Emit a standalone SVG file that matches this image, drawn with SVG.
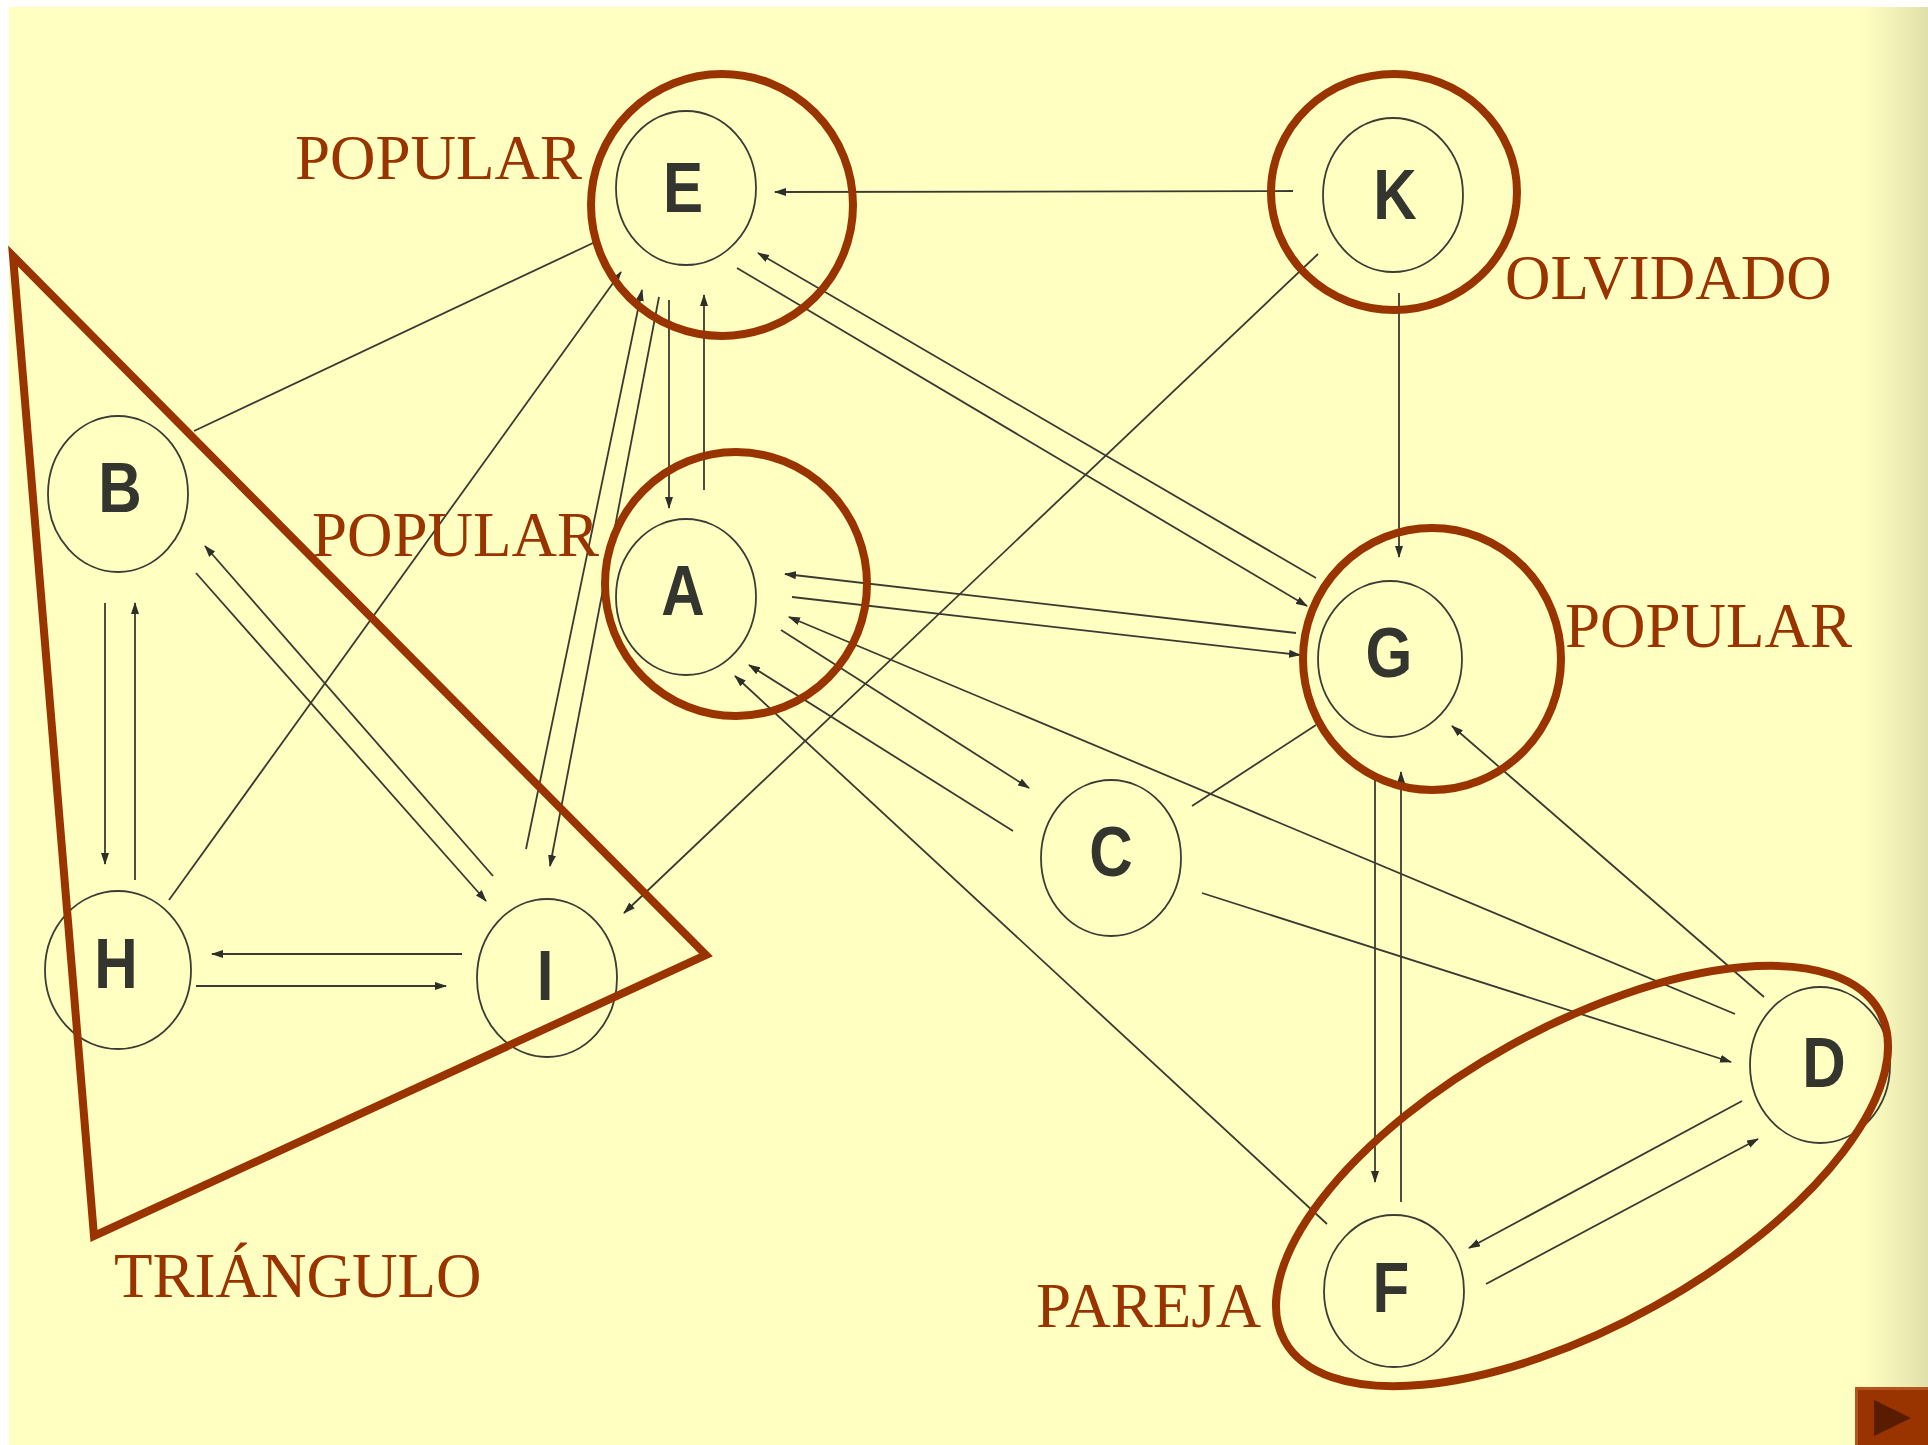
<svg xmlns="http://www.w3.org/2000/svg" width="1928" height="1445" viewBox="0 0 1928 1445">
<style>
.bg{fill:#FFFFC1}
.node{fill:none;stroke:#3c3c36;stroke-width:1.8}
.lt{font-family:"Liberation Sans",Arial,sans-serif;font-weight:bold;font-size:70px;fill:#35352f;text-anchor:middle}
.edge{fill:none;stroke:#3a3a33;stroke-width:1.8}
.ring{fill:none;stroke:#993300;stroke-width:8}
.lbl{font-family:"Liberation Serif","Times New Roman",serif;font-size:63px;fill:#993300}
</style>
<defs>
<marker id="ah" markerUnits="userSpaceOnUse" markerWidth="12" markerHeight="8" refX="11" refY="4" orient="auto">
<path d="M0,0 L12,4 L0,8 z" fill="#2f2f2a"/>
</marker>
<linearGradient id="shade" x1="0" y1="0" x2="1" y2="0">
<stop offset="0" stop-color="#c8c89a" stop-opacity="0"/>
<stop offset="1" stop-color="#b8b88c" stop-opacity="0.45"/>
</linearGradient>
</defs>
<rect x="0" y="0" width="1928" height="1445" fill="#ffffff"/>
<rect class="bg" x="9" y="7" width="1919" height="1438"/>
<rect x="1860" y="7" width="68" height="1438" fill="url(#shade)"/>

<g id="connectors">
<line class="edge" x1="1293" y1="191" x2="775" y2="192" marker-end="url(#ah)"/>
<line class="edge" x1="1399" y1="293" x2="1399" y2="557" marker-end="url(#ah)"/>
<line class="edge" x1="1318" y1="254" x2="624" y2="913" marker-end="url(#ah)"/>
<line class="edge" x1="194" y1="431" x2="593" y2="243"/>
<line class="edge" x1="169" y1="900" x2="621" y2="272" marker-end="url(#ah)"/>
<line class="edge" x1="526" y1="849" x2="642" y2="290" marker-end="url(#ah)"/>
<line class="edge" x1="659" y1="297" x2="550" y2="866" marker-end="url(#ah)"/>
<line class="edge" x1="669" y1="300" x2="669" y2="508" marker-end="url(#ah)"/>
<line class="edge" x1="704" y1="490" x2="704" y2="295" marker-end="url(#ah)"/>
<line class="edge" x1="1316" y1="578" x2="758" y2="253" marker-end="url(#ah)"/>
<line class="edge" x1="737" y1="268" x2="1307" y2="606" marker-end="url(#ah)"/>
<line class="edge" x1="1296" y1="633" x2="785" y2="574" marker-end="url(#ah)"/>
<line class="edge" x1="792" y1="597" x2="1300" y2="655" marker-end="url(#ah)"/>
<line class="edge" x1="1735" y1="1014" x2="789" y2="617" marker-end="url(#ah)"/>
<line class="edge" x1="781" y1="630" x2="1029" y2="788" marker-end="url(#ah)"/>
<line class="edge" x1="1013" y1="831" x2="749" y2="665" marker-end="url(#ah)"/>
<line class="edge" x1="1327" y1="1224" x2="735" y2="676" marker-end="url(#ah)"/>
<line class="edge" x1="1192" y1="806" x2="1316" y2="725"/>
<line class="edge" x1="1202" y1="893" x2="1731" y2="1062" marker-end="url(#ah)"/>
<line class="edge" x1="1764" y1="997" x2="1452" y2="726" marker-end="url(#ah)"/>
<line class="edge" x1="1375" y1="780" x2="1375" y2="1182" marker-end="url(#ah)"/>
<line class="edge" x1="1401" y1="1202" x2="1401" y2="772" marker-end="url(#ah)"/>
<line class="edge" x1="1742" y1="1101" x2="1469" y2="1248" marker-end="url(#ah)"/>
<line class="edge" x1="1486" y1="1284" x2="1758" y2="1139" marker-end="url(#ah)"/>
<line class="edge" x1="105" y1="603" x2="105" y2="864" marker-end="url(#ah)"/>
<line class="edge" x1="135" y1="880" x2="135" y2="603" marker-end="url(#ah)"/>
<line class="edge" x1="462" y1="954" x2="212" y2="954" marker-end="url(#ah)"/>
<line class="edge" x1="196" y1="986" x2="446" y2="986" marker-end="url(#ah)"/>
<line class="edge" x1="493" y1="876" x2="205" y2="546" marker-end="url(#ah)"/>
<line class="edge" x1="196" y1="573" x2="486" y2="901" marker-end="url(#ah)"/>
</g>

<g id="node-E"><ellipse class="node" cx="686" cy="188" rx="70" ry="77"/><text class="lt" transform="translate(683 212) scale(0.86 1)">E</text></g>
<g id="node-K"><ellipse class="node" cx="1393" cy="195" rx="70" ry="77"/><text class="lt" transform="translate(1395 219) scale(0.86 1)">K</text></g>
<g id="node-B"><ellipse class="node" cx="118" cy="494" rx="70" ry="78"/><text class="lt" transform="translate(120 512) scale(0.86 1)">B</text></g>
<g id="node-A"><ellipse class="node" cx="686" cy="597" rx="70" ry="78"/><text class="lt" transform="translate(683 615) scale(0.86 1)">A</text></g>
<g id="node-G"><ellipse class="node" cx="1390" cy="659" rx="72" ry="78"/><text class="lt" transform="translate(1389 677) scale(0.86 1)">G</text></g>
<g id="node-C"><ellipse class="node" cx="1111" cy="858" rx="70" ry="78"/><text class="lt" transform="translate(1111 876) scale(0.86 1)">C</text></g>
<g id="node-H"><ellipse class="node" cx="118" cy="970" rx="73" ry="79"/><text class="lt" transform="translate(116 988) scale(0.86 1)">H</text></g>
<g id="node-I"><ellipse class="node" cx="547" cy="978" rx="70" ry="79"/><text class="lt" transform="translate(545 1000) scale(0.86 1)">I</text></g>
<g id="node-D"><ellipse class="node" cx="1820" cy="1065" rx="70" ry="78"/><text class="lt" transform="translate(1824 1087) scale(0.86 1)">D</text></g>
<g id="node-F"><ellipse class="node" cx="1394" cy="1291" rx="70" ry="76"/><text class="lt" transform="translate(1391 1312) scale(0.86 1)">F</text></g>

<g id="highlights">
<ellipse class="ring" cx="722" cy="205" rx="131" ry="131"/>
<ellipse class="ring" cx="1394" cy="192" rx="123" ry="118"/>
<ellipse class="ring" cx="736" cy="584" rx="131" ry="132"/>
<ellipse class="ring" cx="1432" cy="659" rx="129" ry="131"/>
<ellipse class="ring" cx="1582" cy="1176" rx="340" ry="149" transform="rotate(-29 1582 1176)"/>
<polygon class="ring" points="13,256 706,955 94,1236" stroke-linejoin="miter"/>
</g>

<g id="labels">
<text class="lbl" x="295" y="179">POPULAR</text>
<text class="lbl" x="312" y="556">POPULAR</text>
<text class="lbl" x="1565" y="647">POPULAR</text>
<text class="lbl" x="1505" y="299">OLVIDADO</text>
<text class="lbl" x="114" y="1297">TRIÁNGULO</text>
<text class="lbl" x="1036" y="1327">PAREJA</text>
</g>

<g id="nav-button">
<rect x="1855" y="1387" width="73" height="58" fill="#993300"/>
<path d="M1855,1387 H1928 V1390 H1858 V1445 H1855 z" fill="#b5531f"/>
<polygon points="1874,1400 1911,1418 1874,1436" fill="#5a1c00"/>
</g>
</svg>
